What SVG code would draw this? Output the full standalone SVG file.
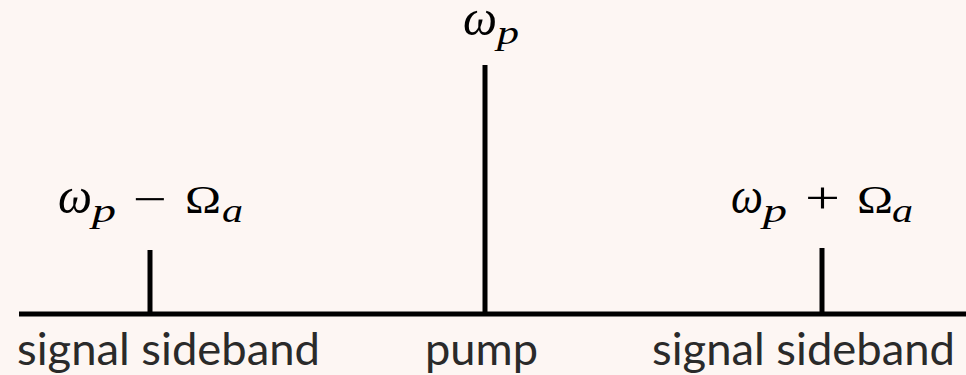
<svg xmlns="http://www.w3.org/2000/svg" width="966" height="375" viewBox="0 0 966 375">
<style>
.ln{stroke:#000;stroke-width:5;fill:none}
.lb{font-family:Lato,"Open Sans","Liberation Sans",sans-serif;font-size:44px;fill:#2a2a2a}
.m{font-family:"Liberation Serif","DejaVu Serif",serif;font-size:44px;fill:#000}
.w{font-style:italic;font-size:50px}
.s{font-style:italic;font-size:34px}
.o{font-size:44px}
.g{font-size:40px}
</style>
<rect width="966" height="375" fill="#fdf6f3"/>
<g id="connectors">
<line class="ln" x1="19" y1="314" x2="966" y2="314"/>
</g>
<g id="left">
<line class="ln" x1="150" y1="250" x2="150" y2="314"/>
<text class="m"><tspan class="w" x="58" y="213" textLength="34" lengthAdjust="spacingAndGlyphs">ω</tspan><tspan class="s" x="92" y="222" textLength="24" lengthAdjust="spacingAndGlyphs">p</tspan><tspan class="o" x="133" y="214" textLength="34" lengthAdjust="spacingAndGlyphs">−</tspan><tspan class="g" x="185" y="213" textLength="36" lengthAdjust="spacingAndGlyphs">Ω</tspan><tspan class="s" x="222" y="222" textLength="21" lengthAdjust="spacingAndGlyphs">a</tspan></text>
<text class="lb" x="17" y="365" textLength="303" lengthAdjust="spacingAndGlyphs">signal sideband</text>
</g>
<g id="pump">
<line class="ln" x1="485" y1="65" x2="485" y2="314"/>
<text class="m"><tspan class="w" x="463" y="35" textLength="34" lengthAdjust="spacingAndGlyphs">ω</tspan><tspan class="s" x="497" y="44" textLength="22" lengthAdjust="spacingAndGlyphs">p</tspan></text>
<text class="lb" x="425" y="365" textLength="113" lengthAdjust="spacingAndGlyphs">pump</text>
</g>
<g id="right">
<line class="ln" x1="822" y1="248" x2="822" y2="314"/>
<text class="m"><tspan class="w" x="731" y="213" textLength="32" lengthAdjust="spacingAndGlyphs">ω</tspan><tspan class="s" x="763" y="222" textLength="24" lengthAdjust="spacingAndGlyphs">p</tspan><tspan class="o" x="805" y="213" textLength="35" lengthAdjust="spacingAndGlyphs">+</tspan><tspan class="g" x="857" y="213" textLength="36" lengthAdjust="spacingAndGlyphs">Ω</tspan><tspan class="s" x="892" y="222" textLength="21" lengthAdjust="spacingAndGlyphs">a</tspan></text>
<text class="lb" x="652" y="365" textLength="303" lengthAdjust="spacingAndGlyphs">signal sideband</text>
</g>
</svg>
